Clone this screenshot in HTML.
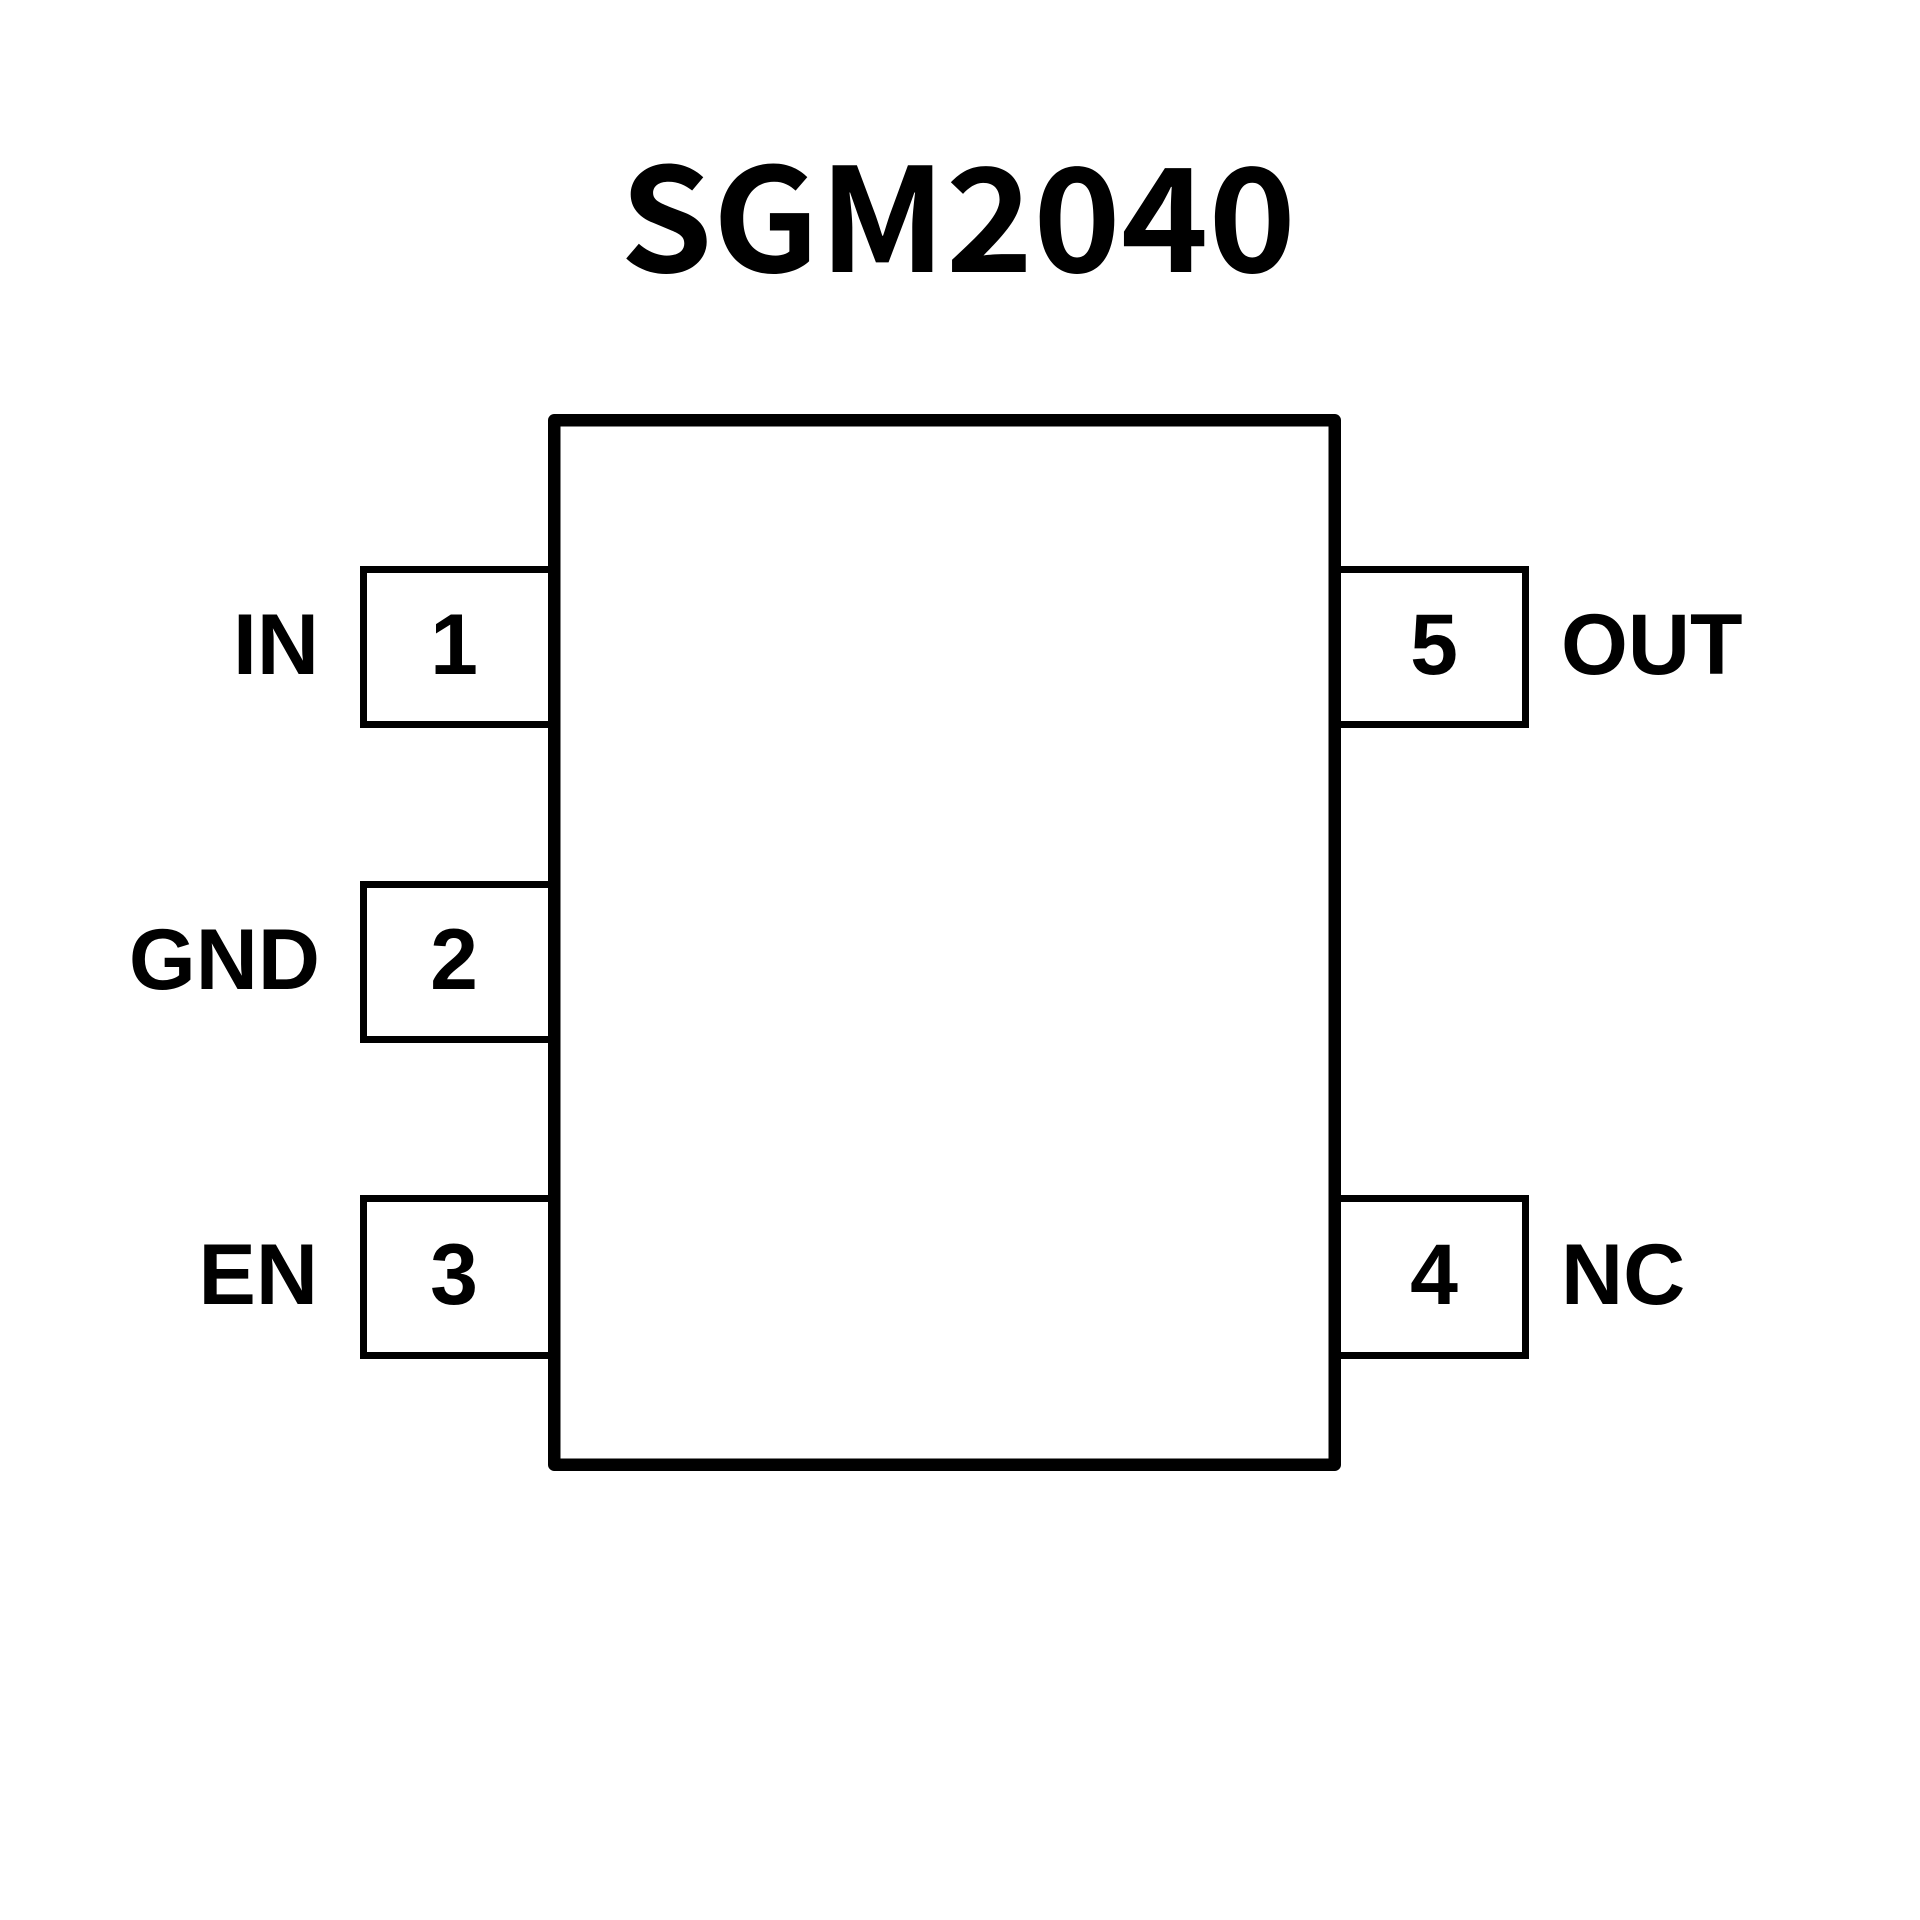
<!DOCTYPE html>
<html>
<head>
<meta charset="utf-8">
<style>
  html, body { margin:0; padding:0; background:#fff; }
  body { width:1920px; height:1920px; overflow:hidden; }
  svg { display:block; }
  .lbl { font-family:"Liberation Sans", Arial, sans-serif; font-weight:bold; font-size:86px; fill:#000; }
  .ttl { font-family:"Noto Sans CJK SC", "DejaVu Sans", sans-serif; font-weight:bold; font-size:144px; fill:#000; }
</style>
</head>
<body>
<svg width="1920" height="1920" viewBox="0 0 1920 1920" xmlns="http://www.w3.org/2000/svg">
  <rect x="0" y="0" width="1920" height="1920" fill="#fff"/>

  <!-- Title -->
  <text class="ttl" x="620" y="272" textLength="676" lengthAdjust="spacingAndGlyphs">SGM2040</text>

  <!-- Left pins -->
  <polyline points="548,569.5 363.5,569.5 363.5,724.5 548,724.5" fill="none" stroke="#000" stroke-width="7"/>
  <polyline points="548,884.5 363.5,884.5 363.5,1039.5 548,1039.5" fill="none" stroke="#000" stroke-width="7"/>
  <polyline points="548,1198.5 363.5,1198.5 363.5,1355.5 548,1355.5" fill="none" stroke="#000" stroke-width="7"/>

  <!-- Right pins -->
  <polyline points="1341,569.5 1525.5,569.5 1525.5,724.5 1341,724.5" fill="none" stroke="#000" stroke-width="7"/>
  <polyline points="1341,1198.5 1525.5,1198.5 1525.5,1355.5 1341,1355.5" fill="none" stroke="#000" stroke-width="7"/>

  <!-- Main body -->
  <rect x="554.25" y="420.25" width="780.5" height="1044.5" fill="none" stroke="#000" stroke-width="12.5" stroke-linejoin="round"/>

  <!-- Pin numbers -->
  <text class="lbl" x="454" y="674" text-anchor="middle">1</text>
  <text class="lbl" x="454" y="989" text-anchor="middle">2</text>
  <text class="lbl" x="454" y="1304" text-anchor="middle">3</text>
  <text class="lbl" x="1434" y="674" text-anchor="middle">5</text>
  <text class="lbl" x="1434" y="1304" text-anchor="middle">4</text>

  <!-- Pin names -->
  <text class="lbl" x="319" y="674" text-anchor="end">IN</text>
  <text class="lbl" x="320" y="989" text-anchor="end">GND</text>
  <text class="lbl" x="318" y="1304" text-anchor="end">EN</text>
  <text class="lbl" x="1561" y="674">OUT</text>
  <text class="lbl" x="1561" y="1304">NC</text>
</svg>
</body>
</html>
